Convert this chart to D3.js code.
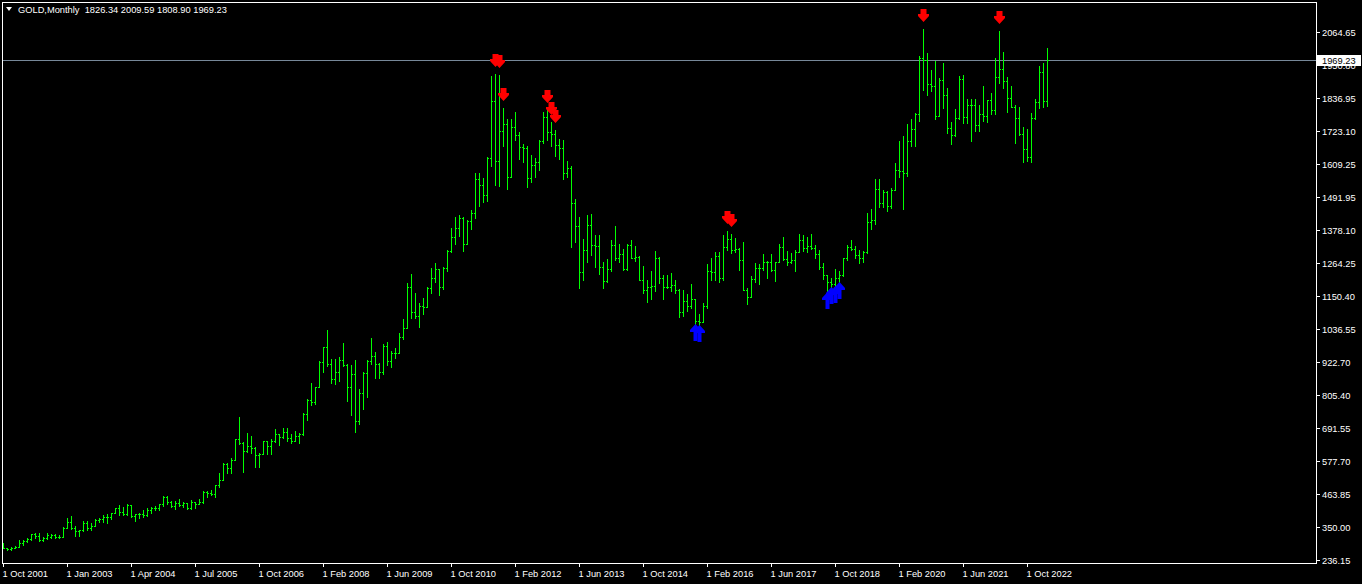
<!DOCTYPE html>
<html>
<head>
<meta charset="utf-8">
<script src="https://cdn.jsdelivr.net/npm/d3@7/dist/d3.min.js"></script>
<style>
  html, body { margin: 0; padding: 0; background: #000; }
  svg { display: block; }
  text { font-family: "Liberation Sans", Arial, sans-serif; font-size: 9.3px; fill: #fff; white-space: pre; }
</style>
</head>
<body>
<script>
// ---- Data (monthly OHLC bars) ----
const opens = [
293,279,275,279,282,296,302,308,326,318,305,313,316,324,316,317,
347,368,348,335,339,363,346,354,375,378,384,386,398,416,401,396,
426,388,394,394,391,408,415,418,429,453,438,422,435,428,435,417,
436,430,436,472,470,466,495,513,568,556,582,654,643,613,632,623,
599,604,647,632,650,672,662,679,659,650,665,672,743,790,783,834,
923,973,917,864,886,928,912,834,880,718,816,884,927,942,917,888,
978,927,954,955,1008,1040,1181,1096,1082,1118,1113,1180,1214,1244,1181,1248,
1307,1357,1386,1420,1332,1410,1439,1556,1536,1500,1628,1825,1620,1722,1746,1564,
1738,1710,1668,1664,1560,1604,1614,1687,1772,1719,1712,1675,1663,1578,1595,1472,
1392,1234,1312,1396,1326,1323,1251,1202,1244,1326,1284,1295,1245,1327,1282,1286,
1208,1171,1182,1184,1283,1212,1183,1183,1190,1172,1095,1133,1115,1142,1064,1061,
1117,1238,1235,1291,1215,1321,1350,1309,1315,1277,1173,1146,1210,1248,1249,1268,
1268,1241,1269,1321,1280,1270,1275,1303,1344,1318,1325,1316,1298,1253,1223,1200,
1192,1214,1222,1282,1321,1313,1292,1284,1305,1409,1413,1520,1472,1511,1463,1517,
1589,1585,1577,1687,1730,1781,1975,1968,1886,1879,1776,1898,1847,1734,1708,1769,
1903,1770,1814,1813,1743,1783,1774,1829,1796,1909,1937,1897,1837,1807,1766,1711,
1660,1633,1768,1824,1928,1826.34
];
const highs = [
294,279,281,285,304,305,311,327,330,328,316,328,326,326,324,349,
382,389,354,341,373,370,366,378,382,392,394,400,417,428,420,429,
428,396,398,411,416,419,422,430,457,457,440,439,447,438,435,443,
438,447,474,476,478,497,538,572,572,589,655,730,645,677,665,628,
607,650,650,657,690,673,695,692,674,683,675,745,795,848,835,924,
975,1033,934,932,940,988,916,912,930,830,889,929,1005,957,919,983,
990,959,971,1023,1070,1196,1226,1162,1126,1145,1181,1249,1265,1245,1250,1310,
1388,1424,1431,1424,1413,1448,1576,1577,1560,1632,1912,1920,1918,1802,1764,1764,
1790,1720,1676,1669,1640,1630,1692,1790,1796,1755,1725,1695,1690,1617,1600,1488,
1424,1347,1433,1434,1361,1361,1267,1280,1345,1392,1331,1315,1332,1345,1323,1288,
1255,1208,1238,1307,1285,1224,1224,1232,1205,1174,1170,1157,1191,1142,1088,1128,
1263,1283,1303,1304,1362,1375,1366,1352,1317,1337,1180,1220,1264,1263,1295,1273,
1296,1270,1331,1357,1306,1299,1309,1366,1361,1356,1365,1326,1309,1265,1224,1214,
1243,1237,1284,1326,1346,1324,1310,1306,1439,1453,1555,1557,1517,1516,1525,1611,
1689,1704,1747,1765,1785,1984,2075,1992,1933,1965,1906,1959,1871,1755,1798,1912,
1916,1832,1834,1834,1814,1877,1830,1853,1974,2070,1998,1910,1879,1814,1807,1735,
1730,1786,1833,1949,1959,2009.59
];
const lows = [
278,272,271,277,281,288,299,307,313,302,301,308,311,312,312,316,
347,344,319,320,335,341,341,354,368,369,365,378,398,392,391,391,
386,370,383,384,387,399,408,411,423,431,419,412,423,421,414,414,
418,429,433,456,461,456,488,512,538,538,581,637,542,611,607,560,
560,604,605,602,646,635,660,650,641,649,642,670,721,774,775,834,
887,908,848,846,858,908,786,740,681,706,760,802,915,866,866,882,
911,904,935,952,1003,1040,1075,1075,1045,1088,1113,1160,1200,1155,1176,1239,
1305,1330,1360,1308,1330,1382,1421,1462,1478,1480,1600,1534,1533,1670,1523,1564,
1692,1627,1614,1527,1547,1564,1587,1682,1692,1672,1636,1627,1555,1562,1321,1338,
1180,1208,1270,1292,1251,1227,1180,1200,1237,1277,1268,1240,1240,1282,1272,1206,
1160,1130,1142,1167,1197,1142,1178,1168,1162,1077,1080,1098,1111,1052,1046,1061,
1111,1208,1205,1199,1208,1310,1301,1302,1241,1171,1123,1146,1200,1194,1242,1214,
1236,1204,1267,1277,1260,1264,1237,1302,1307,1303,1314,1282,1245,1211,1160,1180,
1182,1196,1221,1276,1310,1281,1266,1267,1300,1382,1400,1459,1459,1445,1455,1517,
1563,1451,1567,1670,1671,1757,1863,1848,1860,1764,1775,1802,1717,1677,1705,1765,
1750,1750,1687,1721,1721,1759,1753,1780,1782,1890,1872,1787,1805,1681,1709,1615,
1617,1616,1765,1804,1805,1808.90
];
const closes = [
279,275,278,282,296,302,308,326,318,305,313,322,324,316,317,347,
368,348,335,339,363,346,354,375,378,384,386,398,416,401,396,426,
388,394,394,391,408,415,418,429,453,438,422,435,428,435,417,436,
430,436,472,470,466,495,513,568,556,582,654,643,613,632,623,599,
604,647,632,650,672,662,679,659,650,665,672,743,790,783,834,923,
973,917,864,886,928,912,834,880,718,816,884,927,942,917,888,978,
927,954,955,1008,1040,1181,1096,1082,1118,1113,1180,1214,1244,1181,1248,1307,
1357,1386,1420,1332,1410,1439,1556,1536,1500,1628,1825,1620,1722,1746,1564,1738,
1710,1668,1664,1560,1604,1614,1687,1772,1719,1712,1675,1663,1578,1595,1472,1392,
1234,1312,1396,1326,1323,1251,1202,1244,1326,1284,1295,1245,1327,1282,1286,1208,
1171,1182,1184,1283,1212,1183,1183,1190,1172,1095,1133,1115,1142,1064,1061,1117,
1238,1235,1291,1215,1321,1350,1309,1315,1277,1173,1146,1210,1248,1249,1268,1268,
1241,1269,1321,1280,1270,1275,1303,1344,1318,1325,1316,1298,1253,1223,1200,1192,
1214,1222,1282,1321,1313,1292,1284,1305,1409,1413,1520,1472,1511,1463,1517,1589,
1585,1577,1687,1730,1781,1975,1968,1886,1879,1776,1898,1847,1734,1708,1769,1903,
1770,1814,1813,1743,1783,1774,1829,1796,1909,1937,1897,1837,1807,1766,1711,1660,
1633,1768,1824,1928,1826,1969.23
];

// Date labels on the time axis and the bar they sit on
const xTickIndex = [0,16,32,48,64,80,96,112,128,144,160,176,192,208,224,240,256];
const xTickLabels = ["1 Oct 2001","1 Jan 2003","1 Apr 2004","1 Jul 2005","1 Oct 2006","1 Feb 2008",
  "1 Jun 2009","1 Oct 2010","1 Feb 2012","1 Jun 2013","1 Oct 2014","1 Feb 2016","1 Jun 2017",
  "1 Oct 2018","1 Feb 2020","1 Jun 2021","1 Oct 2022"];

// Price labels on the right scale
const yTickLabels = ["2064.65","1950.80","1836.95","1723.10","1609.25","1491.95","1378.10","1264.25",
  "1150.40","1036.55","922.70","805.40","691.55","577.70","463.85","350.00","236.15"];

// Signal arrows (bar index)
const sellArrows = [123,124,125,136,137,138,181,182,230,249];
const buyArrows = [173,174,206,207,208,209];

const symbolName = "GOLD,Monthly";
const lastPrice = 1969.23;

// ---- Layout ----
const W = 1362, H = 584;
const plotL = 2, plotT = 2, plotR = 1316, plotB = 563;

const svg = d3.select("body").append("svg").attr("width", W).attr("height", H)
  .attr("shape-rendering", "crispEdges");
svg.append("rect").attr("width", W).attr("height", H).attr("fill", "#000");

const n = opens.length;
const x = d3.scaleLinear().domain([0, n - 1]).range([3, 3 + 4 * (n - 1)]);
const y = d3.scaleLinear().domain([236.15, 2064.65]).range([560, 32.3]);
const yTickPos = d3.scaleLinear().domain([0, yTickLabels.length - 1]).range([32.3, 560]);

// Price line
svg.append("line")
  .attr("x1", plotL).attr("x2", plotR)
  .attr("y1", Math.round(y(lastPrice)) + 0.5).attr("y2", Math.round(y(lastPrice)) + 0.5)
  .attr("stroke", "#778899").attr("stroke-width", 1);

// Bars
const bars = svg.append("g").attr("fill", "#00ff00");
d3.range(n).forEach(i => {
  const bx = Math.round(x(i));
  const yh = Math.round(y(highs[i])), yl = Math.round(y(lows[i]));
  bars.append("rect").attr("x", bx).attr("y", yh).attr("width", 1).attr("height", Math.max(1, yl - yh + 1));
  bars.append("rect").attr("x", bx - 1).attr("y", Math.round(y(opens[i]))).attr("width", 1).attr("height", 1);
  bars.append("rect").attr("x", bx + 1).attr("y", Math.round(y(closes[i]))).attr("width", 1).attr("height", 1);
});

// Arrows
const downPts = [[-3,-13],[3,-13],[3,-8],[5.5,-8],[5.5,-6],[0,0],[-5.5,-6],[-5.5,-8],[-3,-8]];
const upPts = [[0,0],[5.5,6],[5.5,8],[2,8],[2,17],[-2,17],[-2,8],[-5.5,8],[-5.5,6]];
const arrowsG = svg.append("g").attr("shape-rendering", "auto");
sellArrows.forEach(i => {
  const cx = Math.round(x(i)) + 0.5, ty = Math.round(y(highs[i])) - 7;
  arrowsG.append("path").attr("d", d3.line()(downPts.map(p => [cx + p[0], ty + p[1]])) + "Z").attr("fill", "#ff0000");
});
buyArrows.forEach(i => {
  const cx = Math.round(x(i)) + 0.5, ty = Math.round(y(lows[i])) - 1;
  arrowsG.append("path").attr("d", d3.line()(upPts.map(p => [cx + p[0], ty + p[1]])) + "Z").attr("fill", "#0000ff");
});

// Frame
svg.append("rect").attr("x", plotL + 0.5).attr("y", plotT + 0.5)
  .attr("width", plotR - plotL).attr("height", plotB - plotT)
  .attr("fill", "none").attr("stroke", "#fff");

// X axis ticks and labels
xTickIndex.forEach((ix, k) => {
  const tx = Math.round(x(ix)) + 0.5;
  svg.append("line").attr("x1", tx).attr("x2", tx).attr("y1", plotB).attr("y2", plotB + 4).attr("stroke", "#fff");
  svg.append("text").attr("x", tx - 1).attr("y", 577).text(xTickLabels[k]);
});

// Y axis ticks and labels
yTickLabels.forEach((lab, k) => {
  const ty = Math.round(yTickPos(k)) + 0.5;
  svg.append("line").attr("x1", plotR).attr("x2", plotR + 4).attr("y1", ty).attr("y2", ty).attr("stroke", "#fff");
  svg.append("text").attr("x", 1322).attr("y", ty + 3.5).text(lab);
});

// Current price label
const py = Math.round(y(lastPrice)) + 0.5;
svg.append("rect").attr("x", plotR + 1).attr("y", py - 6).attr("width", 44).attr("height", 11).attr("fill", "#fff");
svg.append("text").attr("x", 1322).attr("y", py + 3.5).style("fill", "#000").text(lastPrice.toFixed(2));

// Header
svg.append("path").attr("d", "M6,7 L12,7 L9,11 Z").attr("fill", "#fff").attr("shape-rendering", "auto");
svg.append("text").attr("x", 18).attr("y", 13).attr("xml:space", "preserve")
  .text(symbolName + "  " + [opens[n-1], highs[n-1], lows[n-1], closes[n-1]].map(v => v.toFixed(2)).join(" "));
</script>
</body>
</html>
